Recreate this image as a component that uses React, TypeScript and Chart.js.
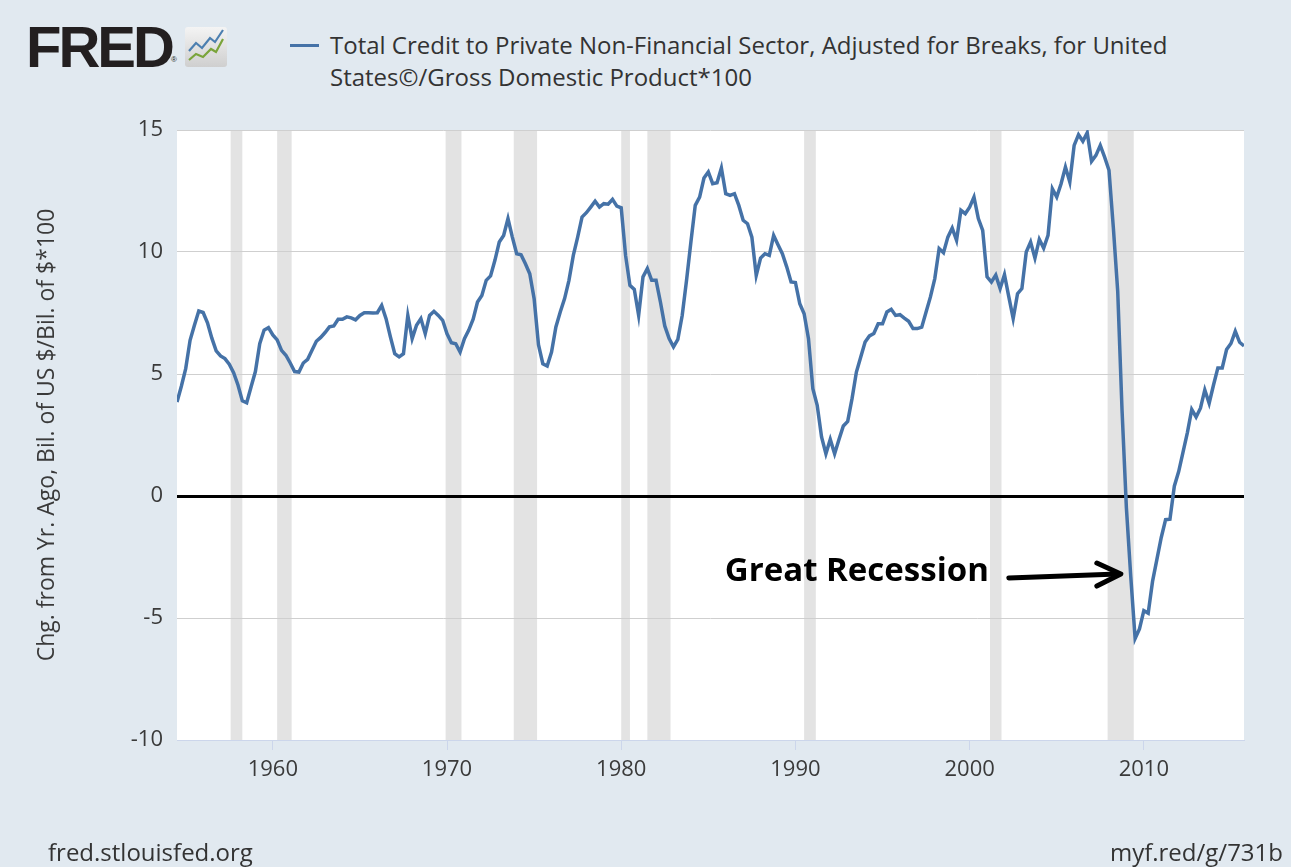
import React, { useEffect, useRef } from "react";
import { Chart, registerables } from "chart.js";

Chart.register(...registerables);

// Quarterly observations, first one is 1954 Q3
const FIRST_QUARTER = 1954.5;
const values1954to1959 = [3.85, 4.5, 5.22, 6.38, 7.0, 7.58, 7.52, 7.1, 6.47, 5.95, 5.74, 5.63, 5.4, 5.05, 4.55, 3.9, 3.82, 4.47, 5.1, 6.24, 6.8, 6.9];
const values1960s = [6.6, 6.4, 5.97, 5.77, 5.45, 5.1, 5.08, 5.45, 5.6, 5.97, 6.34, 6.5, 6.7, 6.93, 6.97, 7.24, 7.24, 7.34, 7.3, 7.22, 7.4, 7.51, 7.51, 7.5, 7.51, 7.81, 7.27, 6.52, 5.83, 5.7, 5.83, 7.4, 6.45, 7.0, 7.27, 6.65, 7.4, 7.57, 7.4, 7.2];
const values1970s = [6.65, 6.28, 6.24, 5.9, 6.45, 6.8, 7.25, 7.95, 8.22, 8.84, 9.02, 9.66, 10.41, 10.68, 11.37, 10.61, 9.93, 9.89, 9.52, 9.11, 8.09, 6.2, 5.42, 5.33, 5.9, 6.93, 7.54, 8.09, 8.84, 9.86, 10.61, 11.43, 11.61, 11.84, 12.08, 11.84, 11.98, 11.96, 12.16, 11.88];
const values1980s = [11.81, 9.86, 8.63, 8.47, 7.4, 8.98, 9.32, 8.84, 8.84, 7.95, 6.97, 6.45, 6.11, 6.42, 7.4, 8.84, 10.41, 11.91, 12.25, 13.03, 13.28, 12.8, 12.84, 13.44, 12.39, 12.32, 12.39, 11.91, 11.3, 11.16, 10.61, 9.04, 9.75, 9.93, 9.86, 10.68, 10.3, 9.93, 9.39, 8.77];
const values1990s = [8.75, 7.88, 7.47, 6.45, 4.4, 3.72, 2.42, 1.73, 2.32, 1.73, 2.32, 2.87, 3.06, 3.99, 5.08, 5.7, 6.31, 6.56, 6.66, 7.06, 7.06, 7.54, 7.65, 7.4, 7.43, 7.29, 7.16, 6.86, 6.86, 6.92, 7.54, 8.16, 8.91, 10.14, 9.97, 10.61, 10.98, 10.48, 11.71, 11.57];
const values2000s = [11.84, 12.25, 11.37, 10.89, 8.98, 8.77, 9.05, 8.5, 9.07, 8.16, 7.27, 8.29, 8.5, 10.0, 10.41, 9.75, 10.52, 10.16, 10.68, 12.59, 12.25, 12.8, 13.48, 12.87, 14.37, 14.81, 14.54, 14.89, 13.72, 13.96, 14.37, 13.89, 13.35, 11.0, 8.4, 3.5, -0.5, -3.3, -5.84, -5.45];
const values2010s = [-4.7, -4.8, -3.5, -2.6, -1.7, -0.97, -0.95, 0.4, 1.0, 1.8, 2.6, 3.55, 3.24, 3.6, 4.35, 3.8, 4.55, 5.25, 5.25, 6.0, 6.25, 6.75, 6.3, 6.15];

const seriesValues = [...values1954to1959, ...values1960s, ...values1970s, ...values1980s, ...values1990s, ...values2000s, ...values2010s];
const quarterDates = seriesValues.map((_, i) => FIRST_QUARTER + i * 0.25);

const xTickYears = [1960, 1970, 1980, 1990, 2000, 2010];
const yTickValues = [-10, -5, 0, 5, 10, 15];

const recessionStarts = [1957.58, 1960.25, 1969.92, 1973.83, 1980.0, 1981.5, 1990.5, 2001.17, 2007.92];
const recessionEnds = [1958.25, 1961.08, 1970.83, 1975.17, 1980.5, 1982.83, 1991.17, 2001.83, 2009.42];

const seriesName1 = "Total Credit to Private Non-Financial Sector, Adjusted for Breaks, for United";
const seriesName2 = "States©/Gross Domestic Product*100";
const yAxisTitle = "Chg. from Yr. Ago, Bil. of US $/Bil. of $*100";
const annotationText = "Great Recession";
const annotationTextAt = { x: 1985.95, y: -3.1 };
const arrowFrom = { x: 2002.25, y: -3.36 };
const arrowTo = { x: 2008.68, y: -3.2 };

const FONT = '"Open Sans", "DejaVu Sans", sans-serif';

const backgroundPlugin = {
  id: "fredBackground",
  beforeDraw(chart: any) {
    const { ctx, chartArea, scales } = chart;
    ctx.save();
    ctx.fillStyle = "#ffffff";
    ctx.fillRect(chartArea.left, chartArea.top, chartArea.right - chartArea.left, chartArea.bottom - chartArea.top);
    ctx.fillStyle = "#e3e3e3";
    for (let i = 0; i < recessionStarts.length; i++) {
      const x0 = scales.x.getPixelForValue(recessionStarts[i]);
      const x1 = scales.x.getPixelForValue(recessionEnds[i]);
      ctx.fillRect(x0, chartArea.top, x1 - x0, chartArea.bottom - chartArea.top);
    }
    ctx.restore();
  },
};

const annotationPlugin = {
  id: "greatRecession",
  afterDatasetsDraw(chart: any) {
    const { ctx, scales } = chart;
    const xs = scales.x;
    const ys = scales.y;
    ctx.save();
    ctx.fillStyle = "#000";
    ctx.font = `bold 33px ${FONT}`;
    ctx.textBaseline = "middle";
    ctx.textAlign = "left";
    ctx.fillText(annotationText, xs.getPixelForValue(annotationTextAt.x), ys.getPixelForValue(annotationTextAt.y));
    const fx = xs.getPixelForValue(arrowFrom.x);
    const fy = ys.getPixelForValue(arrowFrom.y);
    const tx = xs.getPixelForValue(arrowTo.x);
    const ty = ys.getPixelForValue(arrowTo.y);
    ctx.strokeStyle = "#000";
    ctx.lineWidth = 5;
    ctx.lineCap = "round";
    ctx.lineJoin = "round";
    ctx.beginPath();
    ctx.moveTo(fx, fy);
    ctx.lineTo(tx - 3, ty);
    ctx.stroke();
    ctx.beginPath();
    ctx.moveTo(tx - 24, ty - 11);
    ctx.lineTo(tx, ty);
    ctx.lineTo(tx - 24, ty + 12);
    ctx.stroke();
    ctx.restore();
  },
};

function ChartCanvas() {
  const ref = useRef<HTMLCanvasElement | null>(null);
  useEffect(() => {
    if (!ref.current) return;
    const chart = new Chart(ref.current, {
      type: "line",
      data: {
        datasets: [
          {
            label: seriesName1 + " " + seriesName2,
            data: quarterDates.map((d, i) => ({ x: d, y: seriesValues[i] })),
            borderColor: "#4572a7",
            borderWidth: 3.5,
            pointRadius: 0,
            tension: 0,
            fill: false,
          },
        ],
      },
      options: {
        animation: false,
        responsive: false,
        devicePixelRatio: 1,
        layout: { padding: { left: 0, top: 130, right: 47, bottom: 0 } },
        plugins: { legend: { display: false }, tooltip: { enabled: false } },
        scales: {
          x: {
            type: "linear",
            min: quarterDates[0],
            max: quarterDates[quarterDates.length - 1],
            afterBuildTicks: (scale: any) => {
              scale.ticks = xTickYears.map((v) => ({ value: v }));
            },
            afterFit: (scale: any) => {
              scale.height = 127;
            },
            grid: { drawOnChartArea: false, drawTicks: true, tickLength: 10, color: "#ccd6eb" },
            border: { display: true, color: "#ccd6eb", width: 1 },
            ticks: {
              autoSkip: false,
              maxRotation: 0,
              padding: 7,
              color: "#3a3a3a",
              font: { family: FONT, size: 22 },
              callback: (v: any) => String(v),
            },
          },
          y: {
            min: -10,
            max: 15,
            afterBuildTicks: (scale: any) => {
              scale.ticks = yTickValues.map((v) => ({ value: v }));
            },
            afterFit: (scale: any) => {
              scale.width = 177;
            },
            border: { display: false },
            grid: {
              drawTicks: false,
              color: (c: any) => (c.tick && c.tick.value === 0 ? "#000000" : "#cfcfcf"),
              lineWidth: (c: any) => (c.tick && c.tick.value === 0 ? 3 : 1),
            },
            ticks: {
              padding: 14,
              color: "#3a3a3a",
              font: { family: FONT, size: 22 },
              callback: (v: any) => String(v),
            },
            title: {
              display: true,
              text: yAxisTitle,
              color: "#3a3a3a",
              font: { family: FONT, size: 23 },
              padding: { top: 34, bottom: 0 },
            },
          },
        },
      },
      plugins: [backgroundPlugin, annotationPlugin],
    } as any);
    return () => chart.destroy();
  }, []);
  return (
    <canvas
      ref={ref}
      width={1291}
      height={867}
      style={{ position: "absolute", left: 0, top: 0, width: 1291, height: 867 }}
    />
  );
}

export default function App() {
  useEffect(() => {
    document.body.style.margin = "0";
  }, []);
  return (
    <div
      style={{
        position: "fixed",
        left: 0,
        top: 0,
        width: 1291,
        height: 867,
        background: "#e1e9f0",
        overflow: "hidden",
        fontFamily: FONT,
      }}
    >
      <div
        style={{
          position: "absolute",
          left: 26,
          top: 15,
          fontFamily: '"Liberation Sans", Arial, sans-serif',
          fontWeight: 900,
          fontSize: 58,
          lineHeight: "64px",
          letterSpacing: -3,
          color: "#231f20",
        }}
      >
        FRED
      </div>
      <div
        style={{
          position: "absolute",
          left: 171,
          top: 55,
          fontFamily: '"Liberation Sans", Arial, sans-serif',
          fontSize: 8,
          color: "#231f20",
        }}
      >
        ®
      </div>
      <svg style={{ position: "absolute", left: 185, top: 27 }} width={42} height={40} viewBox="0 0 42 40">
        <defs>
          <linearGradient id="fredicon" x1="0" y1="0" x2="0" y2="1">
            <stop offset="0" stopColor="#f4f4f4" />
            <stop offset="1" stopColor="#cfcfcf" />
          </linearGradient>
        </defs>
        <rect x="0" y="0" width="42" height="40" rx="3" fill="url(#fredicon)" />
        <polyline points="4,24 11,16 17,21 25,11 30,15 38,3" fill="none" stroke="#4c7fb0" strokeWidth="2.2" />
        <polyline points="4,33 11,27 18,30 26,22 31,25 38,12" fill="none" stroke="#7aa43a" strokeWidth="2.2" />
      </svg>
      <div style={{ position: "absolute", left: 290, top: 44, width: 29, height: 3, background: "#4572a7" }} />
      <div
        style={{
          position: "absolute",
          left: 330,
          top: 29,
          fontSize: 24,
          lineHeight: "32px",
          color: "#333",
          whiteSpace: "nowrap",
        }}
      >
        <div>{seriesName1}</div>
        <div>{seriesName2}</div>
      </div>
      <ChartCanvas />
      <div style={{ position: "absolute", left: 48, top: 836, fontSize: 24, lineHeight: "32px", color: "#333" }}>
        fred.stlouisfed.org
      </div>
      <div style={{ position: "absolute", right: 8, top: 836, fontSize: 24, lineHeight: "32px", color: "#333" }}>
        myf.red/g/731b
      </div>
    </div>
  );
}
